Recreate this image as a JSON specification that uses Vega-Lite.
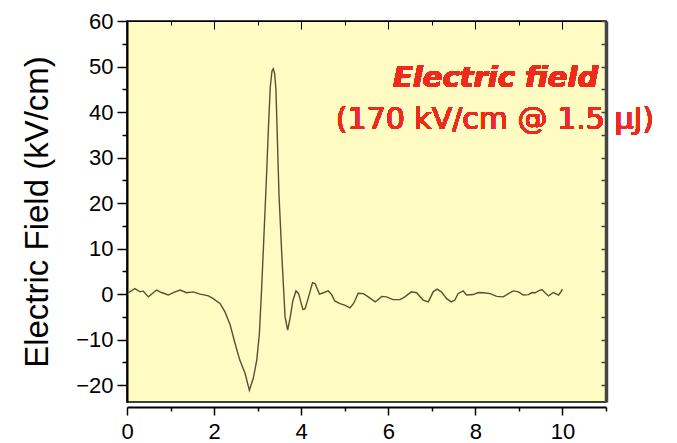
{
  "$schema": "https://vega.github.io/schema/vega-lite/v6.json",
  "width": 479,
  "height": 381,
  "autosize": "none",
  "padding": {"left": 127, "top": 21, "right": 71, "bottom": 41},
  "background": "white",
  "config": {
    "view": {"fill": "#fefcc2", "stroke": "black", "strokeWidth": 1.5},
    "axis": {"grid": false, "labelFont": "Liberation Sans", "labelFontSize": 22, "labelColor": "black", "titleFont": "Liberation Sans", "titleColor": "black", "domainColor": "black", "tickColor": "black"}
  },
  "data": {"values": [
    {"t": 0.03, "v": 0.3}, {"t": 0.18, "v": 1.2}, {"t": 0.30, "v": 0.5}, {"t": 0.37, "v": 0.7}, {"t": 0.49, "v": -0.6},
    {"t": 0.68, "v": 0.9}, {"t": 0.79, "v": 0.35}, {"t": 0.95, "v": -0.2}, {"t": 1.06, "v": 0.35}, {"t": 1.22, "v": 0.9},
    {"t": 1.37, "v": 0.3}, {"t": 1.52, "v": 0.5}, {"t": 1.68, "v": 0.0}, {"t": 1.87, "v": -0.4}, {"t": 1.98, "v": -1.0},
    {"t": 2.14, "v": -2.1}, {"t": 2.25, "v": -3.9}, {"t": 2.37, "v": -6.8}, {"t": 2.48, "v": -10.8}, {"t": 2.59, "v": -14.5},
    {"t": 2.71, "v": -17.4}, {"t": 2.81, "v": -21.1}, {"t": 2.90, "v": -18.5}, {"t": 2.98, "v": -14.5}, {"t": 3.04, "v": -8.7},
    {"t": 3.09, "v": 0.9}, {"t": 3.13, "v": 9.6}, {"t": 3.20, "v": 25}, {"t": 3.25, "v": 37}, {"t": 3.29, "v": 45.5},
    {"t": 3.33, "v": 49}, {"t": 3.36, "v": 49.5}, {"t": 3.39, "v": 48.5}, {"t": 3.42, "v": 45}, {"t": 3.49, "v": 22},
    {"t": 3.55, "v": 9.6}, {"t": 3.59, "v": 2.3}, {"t": 3.63, "v": -5}, {"t": 3.69, "v": -7.9}, {"t": 3.75, "v": -5},
    {"t": 3.81, "v": -1.4}, {"t": 3.88, "v": 0.7}, {"t": 3.94, "v": 0.1}, {"t": 4.04, "v": -3.4}, {"t": 4.09, "v": -3.2},
    {"t": 4.17, "v": -0.6}, {"t": 4.26, "v": 2.5}, {"t": 4.32, "v": 2.3}, {"t": 4.42, "v": 0.0}, {"t": 4.51, "v": 0.3},
    {"t": 4.62, "v": 0.7}, {"t": 4.70, "v": -0.1}, {"t": 4.77, "v": -1.5}, {"t": 4.89, "v": -2.1}, {"t": 5.0, "v": -2.4},
    {"t": 5.12, "v": -3.0}, {"t": 5.20, "v": -2.1}, {"t": 5.31, "v": 0.2}, {"t": 5.43, "v": 0.1}, {"t": 5.54, "v": -0.6},
    {"t": 5.70, "v": -1.7}, {"t": 5.77, "v": -1.2}, {"t": 5.85, "v": -0.5}, {"t": 5.96, "v": -0.6}, {"t": 6.11, "v": -1.2},
    {"t": 6.27, "v": -1.2}, {"t": 6.38, "v": -0.6}, {"t": 6.53, "v": 0.5}, {"t": 6.65, "v": 0.3}, {"t": 6.80, "v": -1.3},
    {"t": 6.92, "v": -1.7}, {"t": 7.03, "v": 0.5}, {"t": 7.12, "v": 1.1}, {"t": 7.22, "v": 0.5}, {"t": 7.34, "v": -1.0},
    {"t": 7.45, "v": -1.7}, {"t": 7.53, "v": -1.3}, {"t": 7.60, "v": 0.1}, {"t": 7.72, "v": 0.7}, {"t": 7.80, "v": -0.2},
    {"t": 7.95, "v": -0.1}, {"t": 8.07, "v": 0.35}, {"t": 8.18, "v": 0.3}, {"t": 8.34, "v": 0.1}, {"t": 8.49, "v": -0.5},
    {"t": 8.64, "v": -0.6}, {"t": 8.76, "v": 0.1}, {"t": 8.87, "v": 0.7}, {"t": 8.99, "v": 0.5}, {"t": 9.10, "v": -0.2},
    {"t": 9.22, "v": -0.1}, {"t": 9.30, "v": 0.35}, {"t": 9.37, "v": 0.3}, {"t": 9.45, "v": 0.7}, {"t": 9.53, "v": 1.0},
    {"t": 9.60, "v": 0.3}, {"t": 9.68, "v": -0.4}, {"t": 9.79, "v": 0.35}, {"t": 9.91, "v": -0.2}, {"t": 9.95, "v": 0.3},
    {"t": 10.0, "v": 1.1}
  ]},
  "resolve": {"axis": {"x": "independent", "y": "independent"}},
  "layer": [
    {
      "mark": {"type": "line", "color": "#55532f", "strokeWidth": 1.4},
      "encoding": {
        "x": {"field": "t", "type": "quantitative",
          "scale": {"domain": [0, 11], "nice": false, "zero": false},
          "axis": {"orient": "bottom", "title": null, "offset": 5, "domainWidth": 2,
            "values": [0, 1, 2, 3, 4, 5, 6, 7, 8, 9, 10, 11],
            "labelExpr": "datum.value % 2 === 0 && datum.value <= 10 ? datum.label : ''",
            "tickSize": {"condition": {"test": "datum.value % 2 === 0", "value": 8}, "value": 4},
            "tickWidth": 1.5, "labelPadding": 6, "labelFlush": false, "labelOverlap": false}},
        "y": {"field": "v", "type": "quantitative",
          "scale": {"domain": [-23.7, 60], "nice": false, "zero": false},
          "axis": {"orient": "left", "title": "Electric Field (kV/cm)", "titleFontSize": 33, "titleFontWeight": "normal",
            "titleX": -80, "titleBaseline": "alphabetic", "domainWidth": 2,
            "values": [-20, -15, -10, -5, 0, 5, 10, 15, 20, 25, 30, 35, 40, 45, 50, 55, 60],
            "labelExpr": "datum.value % 10 === 0 ? datum.label : ''",
            "tickSize": {"condition": {"test": "datum.value % 10 === 0", "value": 10}, "value": 5},
            "tickWidth": 1.5, "labelPadding": 4, "labelFlush": false, "labelOverlap": false}}
      }
    },
    {
      "mark": {"type": "text", "color": "#ee2a1a", "font": "DejaVu Sans", "fontSize": 29, "fontWeight": "bold", "fontStyle": "italic", "align": "right", "baseline": "alphabetic"},
      "encoding": {
        "x": {"datum": 10.82, "type": "quantitative",
          "axis": {"orient": "top", "title": null, "labels": false, "domainWidth": 1,
            "values": [0, 1, 2, 3, 4, 5, 6, 7, 8, 9, 10, 11],
            "tickSize": {"condition": {"test": "datum.value % 2 === 0", "value": -8}, "value": -4}}},
        "y": {"datum": 45.4, "type": "quantitative",
          "axis": {"orient": "right", "title": null, "labels": false, "zindex": 1, "domainColor": "#444444", "domainWidth": 3.5, "tickColor": "#444444",
            "values": [-20, -15, -10, -5, 0, 5, 10, 15, 20, 25, 30, 35, 40, 45, 50, 55, 60],
            "tickSize": -5, "tickWidth": 1.5}},
        "text": {"value": "Electric field"}
      }
    },
    {
      "mark": {"type": "text", "color": "#ee2a1a", "font": "DejaVu Sans", "fontSize": 30, "align": "center", "baseline": "alphabetic"},
      "encoding": {
        "x": {"datum": 8.45, "type": "quantitative", "axis": null},
        "y": {"datum": 36.2, "type": "quantitative", "axis": null},
        "text": {"value": "(170 kV/cm @ 1.5   μJ)"}
      }
    }
  ]
}
